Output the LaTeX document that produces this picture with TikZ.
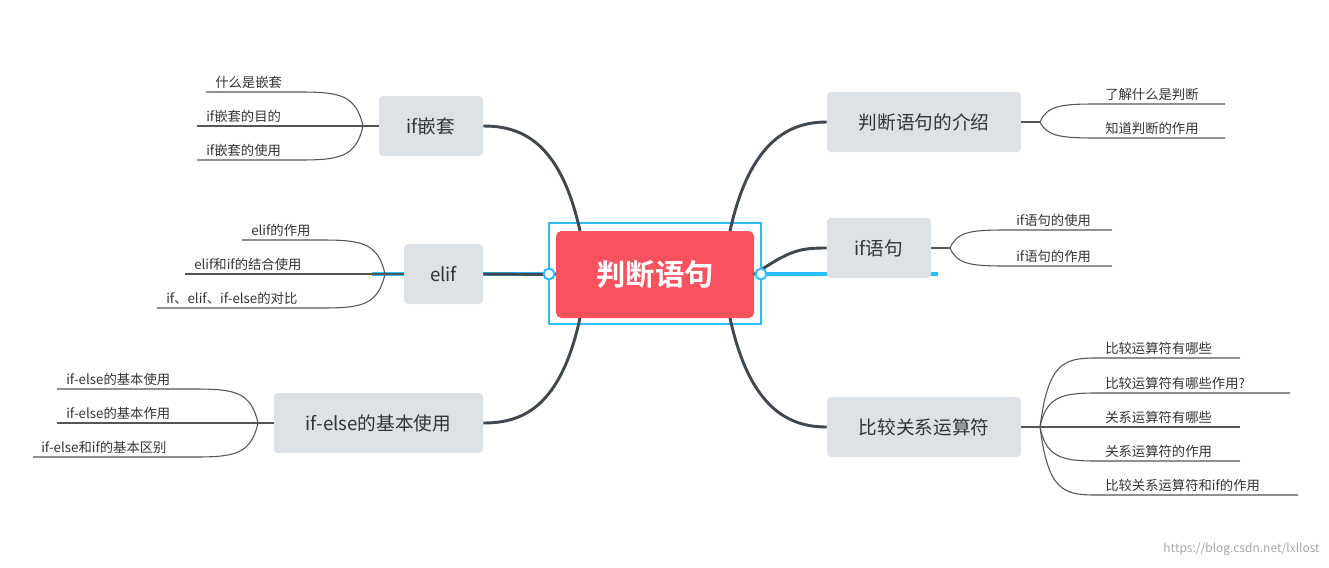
\documentclass[tikz,border=0pt]{standalone}
\usepackage{fontspec}
\setmainfont{Noto Sans CJK SC}
\newfontfamily\cjkb{Noto Sans CJK SC Bold}
\begin{document}
\begin{tikzpicture}[x=0.75pt,y=-0.75pt,
  sub/.style={fill=subgray,rounded corners=3pt,inner sep=0pt,font=\fontsize{14}{16}\selectfont,text=textgray},
  leaf/.style={anchor=south west,inner sep=0pt,font=\fontsize{10}{12}\selectfont,text=textgray},
  br/.style={draw=branch,line width=2.2pt},
  lf/.style={draw=leafline,line width=0.8pt}]
\definecolor{subgray}{HTML}{DCE2E5}
\definecolor{textgray}{HTML}{333333}
\definecolor{branch}{HTML}{3F4750}
\definecolor{leafline}{HTML}{555555}
\definecolor{redc}{HTML}{F9525F}
\definecolor{bluec}{HTML}{2EBDFB}
\useasboundingbox (0,0) rectangle (1329,568);
% center
\node[draw=bluec,line width=2pt,minimum width=211\pgflinewidth,inner sep=0pt] (frame) at (655,273.5) {};
\path[draw=bluec,line width=2pt] (549,223) rectangle (761,324);
\node[fill=redc,rounded corners=4pt,minimum width=198*0.75pt,minimum height=87*0.75pt,inner sep=0pt,text=white,font=\cjkb\fontsize{22}{24}\selectfont] (c) at (655,274.5) {判断语句};
\coordinate (cl) at (549,274);
\coordinate (cr) at (761,274);
% subtopics
\node[sub,minimum width=104*0.75pt,minimum height=60*0.75pt] (a) at (431,126) {if嵌套};
\node[sub,minimum width=79*0.75pt,minimum height=60*0.75pt] (b) at (443.5,274) {elif};
\node[sub,minimum width=209*0.75pt,minimum height=60*0.75pt] (d) at (378.5,423) {if-else的基本使用};
\node[sub,minimum width=194*0.75pt,minimum height=60*0.75pt] (e) at (924,122) {判断语句的介绍};
\node[sub,minimum width=104*0.75pt,minimum height=60*0.75pt] (f) at (879,248) {if语句};
\node[sub,minimum width=194*0.75pt,minimum height=60*0.75pt] (g) at (924,427) {比较关系运算符};
% branches
\draw[br] (580,231) .. controls (560,140) and (520,126) .. (a.east);
\draw[br] (c.west) -- (b.east);
\draw[br] (580,318) .. controls (560,410) and (520,423) .. (d.east);
\draw[br] (730,231) .. controls (750,140) and (790,122) .. (e.west);
\draw[br] (c.east) .. controls (790,250) and (800,248) .. (f.west);
\draw[br] (730,318) .. controls (750,410) and (790,427) .. (g.west);
\foreach \p in {cl,cr} \draw[bluec,fill=white,line width=1.5pt] (\p) circle (5.5);
% left leaves: if嵌套
\coordinate (fa) at (363,126);
\draw[lf] (a.west) -- (fa);
\draw[lf] (fa) .. controls (356,95) and (340,92) .. (300,92) -- (206,92);
\draw[lf] (fa) -- (197,126);
\draw[lf] (fa) .. controls (356,157) and (340,160) .. (300,160) -- (197,160);
\node[leaf] at (215,89) {什么是嵌套};
\node[leaf] at (206,123) {if嵌套的目的};
\node[leaf] at (206,157) {if嵌套的使用};
% elif
\coordinate (fb) at (385,274);
\draw[lf] (b.west) -- (fb);
\draw[lf] (fb) .. controls (378,243) and (362,240) .. (322,240) -- (242,240);
\draw[lf] (fb) -- (185,274);
\draw[lf] (fb) .. controls (378,305) and (362,308) .. (322,308) -- (157,308);
\node[leaf] at (251,237) {elif的作用};
\node[leaf] at (194,271) {elif和if的结合使用};
\node[leaf] at (166,305) {if、elif、if-else的对比};
% if-else
\coordinate (fd) at (258,423);
\draw[lf] (d.west) -- (fd);
\draw[lf] (fd) .. controls (251,392) and (235,389) .. (195,389) -- (57,389);
\draw[lf] (fd) -- (57,423);
\draw[lf] (fd) .. controls (251,454) and (235,457) .. (195,457) -- (33,457);
\node[leaf] at (66,386) {if-else的基本使用};
\node[leaf] at (66,420) {if-else的基本作用};
\node[leaf] at (41,454) {if-else和if的基本区别};
% 判断语句的介绍
\coordinate (fe) at (1040,122);
\draw[lf] (e.east) -- (fe);
\draw[lf] (fe) .. controls (1047,106) and (1060,104) .. (1095,104) -- (1225,104);
\draw[lf] (fe) .. controls (1047,136) and (1060,138) .. (1095,138) -- (1225,138);
\node[leaf] at (1105,101) {了解什么是判断};
\node[leaf] at (1105,135) {知道判断的作用};
% if语句
\coordinate (ff) at (950,248);
\draw[lf] (f.east) -- (ff);
\draw[lf] (ff) .. controls (957,232) and (970,230) .. (1005,230) -- (1112,230);
\draw[lf] (ff) .. controls (957,264) and (970,266) .. (1005,266) -- (1112,266);
\node[leaf] at (1016,227) {if语句的使用};
\node[leaf] at (1016,263) {if语句的作用};
% 比较关系运算符
\coordinate (fg) at (1040,427);
\draw[lf] (g.east) -- (fg);
\draw[lf] (fg) .. controls (1048,365) and (1062,358) .. (1095,358) -- (1240,358);
\draw[lf] (fg) .. controls (1046,398) and (1060,393) .. (1095,393) -- (1290,393);
\draw[lf] (fg) -- (1240,427);
\draw[lf] (fg) .. controls (1046,456) and (1060,461) .. (1095,461) -- (1240,461);
\draw[lf] (fg) .. controls (1048,489) and (1062,495) .. (1095,495) -- (1298,495);
\node[leaf] at (1105,355) {比较运算符有哪些};
\node[leaf] at (1105,390) {比较运算符有哪些作用?};
\node[leaf] at (1105,424) {关系运算符有哪些};
\node[leaf] at (1105,458) {关系运算符的作用};
\node[leaf] at (1105,492) {比较关系运算符和if的作用};
\node[anchor=east,inner sep=0pt,text=gray!70,font=\fontsize{9}{11}\selectfont] (wm) at (1320,549) {https://blog.csdn.net/lxllost};
\end{tikzpicture}
\end{document}
